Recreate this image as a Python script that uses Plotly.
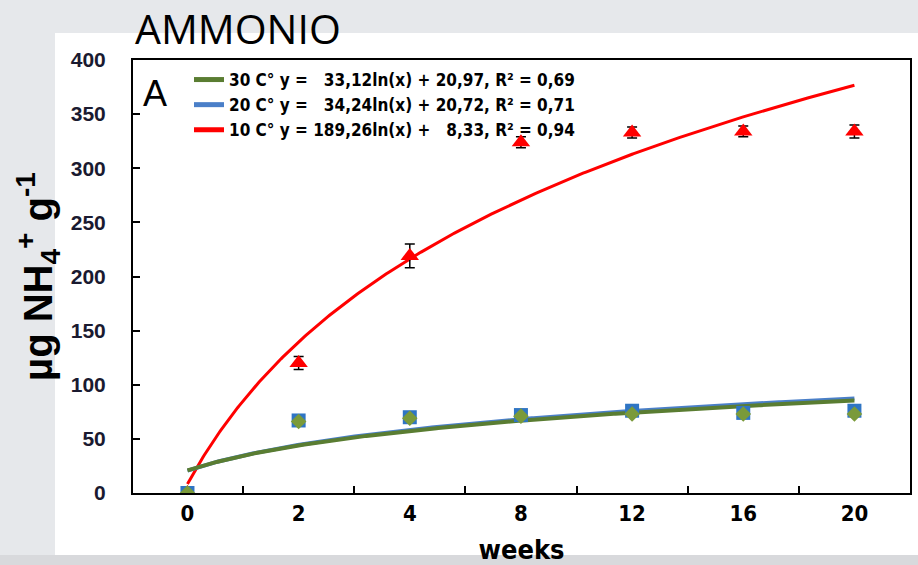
import numpy as np
import plotly.graph_objects as go

weeks = ["0", "2", "4", "8", "12", "16", "20"]
red_vals = [0, 120, 219, 324, 333, 334, 334]
red_err = [0, 6, 11, 5, 5, 5, 6]
blue_vals = [0, 67, 70, 72, 76, 74, 76]
blue_err = [0, 3, 3, 3, 3, 3, 3]
green_vals = [0, 66, 69, 71, 73, 73, 73]
green_err = [0, 3, 3, 3, 3, 3, 3]

fit_a = {"30": 33.12, "20": 34.24, "10": 189.26}
fit_b = {"30": 20.97, "20": 20.72, "10": 8.33}
legend_text = {
    "30": "30 C° y =   33,12ln(x) + 20,97, R² = 0,69",
    "20": "20 C° y =   34,24ln(x) + 20,72, R² = 0,71",
    "10": "10 C° y = 189,26ln(x) +   8,33, R² = 0,94",
}
trend_colors = {"30": "#5a7d32", "20": "#4a7fc8", "10": "#ff0000"}

idx = np.arange(1, len(weeks) + 1)
xs = np.linspace(1, len(weeks), 400)

fig = go.Figure()

for key, rank in [("10", 3), ("20", 2), ("30", 1)]:
    fig.add_trace(go.Scatter(
        x=xs, y=fit_a[key] * np.log(xs) + fit_b[key], mode="lines",
        line=dict(color=trend_colors[key], width=4 if key != "10" else 3),
        name=legend_text[key], legendrank=rank, legendgroup=key, hoverinfo="skip"))

fig.add_trace(go.Scatter(
    x=idx, y=red_vals, mode="markers", showlegend=False,
    marker=dict(symbol="triangle-up", size=16, color="#ff0000"),
    error_y=dict(type="data", array=red_err, color="black", thickness=1.5, width=5)))
fig.add_trace(go.Scatter(
    x=idx, y=blue_vals, mode="markers", showlegend=False,
    marker=dict(symbol="square", size=14, color="#2f75c4"),
    error_y=dict(type="data", array=blue_err, color="black", thickness=1.5, width=4)))
fig.add_trace(go.Scatter(
    x=idx, y=green_vals, mode="markers", showlegend=False,
    marker=dict(symbol="diamond", size=12, color="#7a9a3a"),
    error_y=dict(type="data", array=green_err, color="#7a9a3a", thickness=1.5, width=0)))

L, R, T, B = 133, 8, 60, 72
W, H = 918, 565
pw, ph = W - L - R, H - T - B

def px_x(p):
    return (p - L) / pw

def px_y(p):
    return (H - B - p) / ph

fig.add_shape(type="rect", xref="paper", yref="paper",
              x0=px_x(55), x1=px_x(930), y0=px_y(555), y1=px_y(33),
              fillcolor="white", line=dict(width=0), layer="below")
fig.add_shape(type="rect", xref="paper", yref="paper",
              x0=px_x(-10), x1=px_x(930), y0=px_y(575), y1=px_y(555),
              fillcolor="#d8d9dc", line=dict(width=0), layer="below")

fig.add_annotation(text="AMMONIO", xref="paper", yref="paper",
                   x=px_x(133), y=px_y(28), xanchor="left", yanchor="middle",
                   showarrow=False, font=dict(family="Open Sans, Liberation Sans, Arial", size=41, color="black"))
fig.add_annotation(text="A", xref="paper", yref="paper",
                   x=px_x(141), y=px_y(93), xanchor="left", yanchor="middle",
                   showarrow=False, font=dict(family="Liberation Sans, Arial", size=36, color="black"))

fig.update_layout(
    width=W, height=H,
    margin=dict(l=L, r=R, t=T, b=B, autoexpand=False),
    paper_bgcolor="#e6e8eb",
    plot_bgcolor="white",
    showlegend=True,
    legend=dict(x=px_x(189), y=px_y(62), xanchor="left", yanchor="top",
                bgcolor="rgba(0,0,0,0)", tracegroupgap=0,
                font=dict(family="DejaVu Sans Condensed, Liberation Sans Narrow, Arial",
                          size=17, color="black", weight="bold"),
                itemsizing="constant"),
    xaxis=dict(
        range=[0.51, 7.5], automargin=False,
        tickvals=list(idx), ticktext=weeks, ticks="",
        showline=True, mirror=True, linecolor="black", linewidth=2,
        showgrid=False, zeroline=False,
        tickfont=dict(family="DejaVu Sans Condensed, Liberation Sans, Arial", size=22, color="black", weight="bold"),
        minor=dict(tickvals=[1.5, 2.5, 3.5, 4.5, 5.5, 6.5], ticks="inside", ticklen=7,
                   tickwidth=1.5, tickcolor="black", showgrid=False),
        title=dict(text="<b>weeks</b>", standoff=15,
                   font=dict(family="DejaVu Sans Condensed, Liberation Sans, Arial", size=27, color="black")),
    ),
    yaxis=dict(
        range=[0, 400], automargin=False, tickvals=[0, 50, 100, 150, 200, 250, 300, 350, 400],
        ticks="inside", ticklen=7, tickwidth=1.5, tickcolor="black",
        showline=True, mirror=True, linecolor="black", linewidth=2,
        showgrid=False, zeroline=False,
        ticklabelstandoff=21,
        tickfont=dict(family="Liberation Sans, Arial", size=21, color="#1a1a30", weight="bold"),
        title=dict(text="<b>µg NH<sub>4</sub><sup>+</sup> g<sup>-1</sup></b>", standoff=6,
                   font=dict(family="Liberation Sans, Arial", size=40, color="black")),
    ),
)

fig.write_html("out.html", config={"displayModeBar": False},
               post_script="document.body.style.margin='0';")
